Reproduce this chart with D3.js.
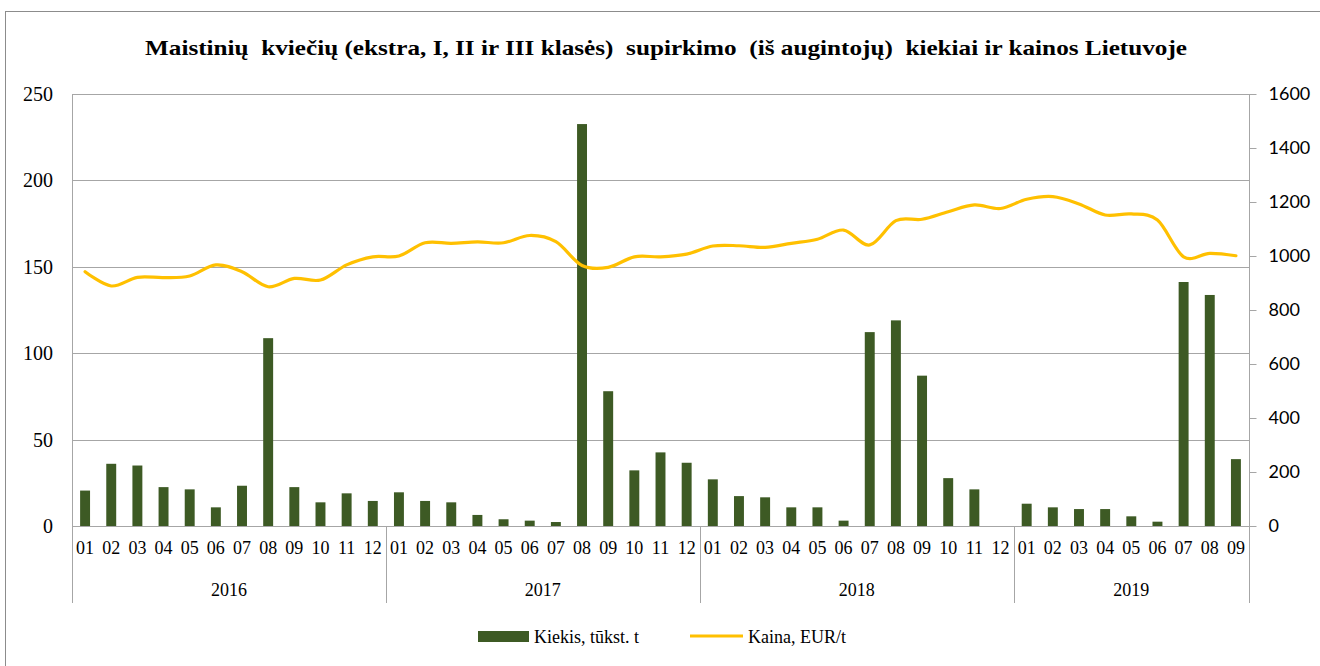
<!DOCTYPE html>
<html>
<head>
<meta charset="utf-8">
<script src="https://cdn.jsdelivr.net/npm/d3@7"></script>
<style>
  body { margin: 0; background: #fff; }
  text { fill: #000; }
</style>
</head>
<body>
<div id="chart"></div>
<script>
// data
var months = ["01","02","03","04","05","06","07","08","09","10","11","12",
              "01","02","03","04","05","06","07","08","09","10","11","12",
              "01","02","03","04","05","06","07","08","09","10","11","12",
              "01","02","03","04","05","06","07","08","09"];
var years = ["2016", "2017", "2018", "2019"];
var yearCounts = [12, 12, 12, 9];

// Kiekis, tūkst. t
var kiekis = [20.5, 36, 35, 22.5, 21.2, 10.8, 23.3, 108.7, 22.5, 13.7, 18.9, 14.5,
              19.5, 14.5, 13.7, 6.4, 3.9, 3.1, 2.3, 232.6, 78, 32.2, 42.6, 36.6,
              27, 17.3, 16.6, 10.8, 10.8, 3.1, 112.2, 119, 87, 27.7, 21.2, null,
              12.9, 10.8, 9.8, 9.8, 5.6, 2.5, 141.2, 133.7, 38.7];

// Kaina, EUR/t
var kaina = [942, 889, 921, 920, 926, 967, 942, 886, 917, 911, 967, 997,
             1000, 1049, 1047, 1052, 1049, 1076, 1053, 965, 958, 997, 997, 1007,
             1037, 1038, 1032, 1047, 1062, 1096, 1041, 1131, 1136, 1164, 1189, 1176,
             1210, 1220, 1193, 1152, 1156, 1133, 997, 1010, 1001];

var leftTicks = [0, 50, 100, 150, 200, 250];
var rightTicks = [0, 200, 400, 600, 800, 1000, 1200, 1400, 1600];

var title = "Maistinių  kviečių (ekstra, I, II ir III klasės)  supirkimo  (iš augintojų)  kiekiai ir kainos Lietuvoje";

var w = 1320, h = 666;
var pLeft = 72, pRight = 1249, pTop = 94, pBottom = 526;
var serif = "'Liberation Serif', 'Times New Roman', serif";

var svg = d3.select("#chart").append("svg")
    .attr("width", w)
    .attr("height", h);

// outer frame
svg.append("rect")
    .attr("x", 5.5).attr("y", 11.5)
    .attr("width", w + 10).attr("height", h + 10)
    .attr("fill", "none")
    .attr("stroke", "#8c8c8c");

svg.append("text")
    .attr("x", 666).attr("y", 55)
    .attr("text-anchor", "middle")
    .attr("font-family", serif)
    .attr("font-weight", "bold")
    .attr("font-size", 22)
    .attr("textLength", 1042)
    .attr("lengthAdjust", "spacingAndGlyphs")
    .style("white-space", "pre")
    .text(title);

var x = d3.scaleBand()
    .domain(d3.range(months.length))
    .range([pLeft, pRight])
    .paddingInner(0.62)
    .paddingOuter(0.31);

var yL = d3.scaleLinear().domain([0, 250]).range([pBottom, pTop]);
var yR = d3.scaleLinear().domain([0, 1600]).range([pBottom, pTop]);

// gridlines
svg.append("g")
    .selectAll("line")
    .data(leftTicks)
    .enter()
    .append("line")
    .attr("x1", pLeft).attr("x2", pRight)
    .attr("y1", function(d) { return Math.round(yL(d)) + 0.5; })
    .attr("y2", function(d) { return Math.round(yL(d)) + 0.5; })
    .attr("stroke", "#a6a6a6");

// left axis labels
var gl = svg.append("g")
    .attr("transform", "translate(" + (pLeft - 16) + ",0)")
    .call(d3.axisLeft(yL).tickValues(leftTicks).tickSize(0));
gl.select(".domain").remove();
gl.selectAll("text")
    .attr("font-family", serif)
    .attr("font-size", 20)
    .attr("fill", "#000");

// right axis
var gr = svg.append("g")
    .attr("transform", "translate(" + (pRight + 0.5) + ",0)")
    .call(d3.axisRight(yR).tickValues(rightTicks).tickSize(7).tickPadding(12)
        .tickFormat(d3.format("d")));
gr.select(".domain").remove();
gr.selectAll("line").attr("stroke", "#a6a6a6");
gr.selectAll("text")
    .attr("font-family", "Lato, 'Open Sans', sans-serif")
    .attr("font-size", 18)
    .attr("fill", "#000");

// vertical axis lines + year separators
var bounds = [0];
yearCounts.forEach(function(c, i) { bounds.push(bounds[i] + c); });
var step = x.step();
svg.append("g")
    .selectAll("line")
    .data(bounds)
    .enter()
    .append("line")
    .attr("x1", function(d) { return Math.round(pLeft + d * step) + 0.5; })
    .attr("x2", function(d) { return Math.round(pLeft + d * step) + 0.5; })
    .attr("y1", function(d, i) { return (i == 0 || i == bounds.length - 1) ? pTop : pBottom; })
    .attr("y2", 603)
    .attr("stroke", "#a6a6a6");

// bars
var barData = kiekis.map(function(v, i) { return {i: i, v: v}; })
    .filter(function(d) { return d.v != null; });
svg.append("g")
    .selectAll("rect")
    .data(barData)
    .enter()
    .append("rect")
    .attr("x", function(d) { return x(d.i); })
    .attr("y", function(d) { return yL(d.v); })
    .attr("width", x.bandwidth())
    .attr("height", function(d) { return pBottom - yL(d.v); })
    .attr("fill", "#3d5a24");

// month labels
var gx = svg.append("g")
    .attr("transform", "translate(0," + pBottom + ")")
    .call(d3.axisBottom(x).tickSize(0).tickPadding(15).tickFormat(function(i) { return months[i]; }));
gx.select(".domain").remove();
gx.selectAll("text")
    .attr("font-family", serif)
    .attr("font-size", 18)
    .attr("fill", "#000");

// year labels
svg.append("g")
    .selectAll("text")
    .data(years)
    .enter()
    .append("text")
    .attr("x", function(d, i) { return pLeft + (bounds[i] + bounds[i + 1]) / 2 * step; })
    .attr("y", 596)
    .attr("text-anchor", "middle")
    .attr("font-family", serif)
    .attr("font-size", 18)
    .text(function(d) { return d; });

// price line
var line = d3.line()
    .x(function(d, i) { return x(i) + x.bandwidth() / 2; })
    .y(function(d) { return yR(d); })
    .curve(d3.curveCardinal.tension(0));

svg.append("path")
    .datum(kaina)
    .attr("d", line)
    .attr("fill", "none")
    .attr("stroke", "#ffc000")
    .attr("stroke-width", 3.2)
    .attr("stroke-linejoin", "round")
    .attr("stroke-linecap", "round");

// legend
var lg = svg.append("g").attr("font-family", serif).attr("font-size", 18);
lg.append("rect")
    .attr("x", 478).attr("y", 631)
    .attr("width", 51).attr("height", 11)
    .attr("fill", "#3d5a24");
lg.append("text").attr("x", 534).attr("y", 643).text("Kiekis, tūkst. t");
lg.append("line")
    .attr("x1", 690).attr("x2", 743)
    .attr("y1", 636).attr("y2", 636)
    .attr("stroke", "#ffc000")
    .attr("stroke-width", 3.2);
lg.append("text").attr("x", 748).attr("y", 643).text("Kaina, EUR/t");
</script>
</body>
</html>
